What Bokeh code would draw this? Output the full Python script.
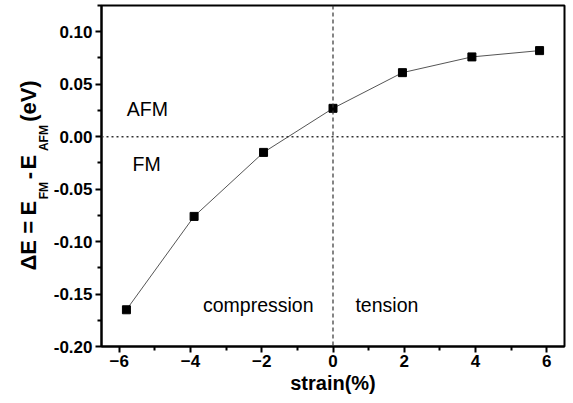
import math
from bokeh.plotting import figure
from bokeh.layouts import row
from bokeh.models import Label, Span, FixedTicker, NumeralTickFormatter, Range1d
from bokeh.embed import file_html
from bokeh.resources import INLINE

# data
strain = [-5.8, -3.9, -1.95, 0.0, 1.95, 3.9, 5.8]
delta_e = [-0.165, -0.076, -0.015, 0.027, 0.061, 0.076, 0.082]
x_major = [-6, -4, -2, 0, 2, 4, 6]
x_minor = [-5, -3, -1, 1, 3, 5]
y_major = [-0.20, -0.15, -0.10, -0.05, 0.0, 0.05, 0.10]
y_minor = [-0.175, -0.125, -0.075, -0.025, 0.025, 0.075, 0.125]

FONT = "Liberation Sans"
LEFT_W = 50

p = figure(width=573 - LEFT_W, height=403, output_backend="svg", toolbar_location=None,
           x_range=Range1d(-6.5, 6.5), y_range=Range1d(-0.2, 0.125),
           min_border_left=101 - LEFT_W, min_border_right=9, min_border_top=5, min_border_bottom=57)
p.xgrid.visible = False
p.ygrid.visible = False
p.outline_line_color = "black"
p.outline_line_width = 2
p.background_fill_color = "white"
p.border_fill_color = "white"

for ax in (p.xaxis[0], p.yaxis[0]):
    ax.axis_line_width = 2
    ax.axis_line_color = "black"
    ax.major_tick_line_width = 2
    ax.minor_tick_line_width = 2
    ax.major_tick_out = 6
    ax.major_tick_in = 0
    ax.minor_tick_out = 4
    ax.minor_tick_in = 0
    ax.major_label_text_font = FONT
    ax.major_label_text_font_style = "bold"
    ax.major_label_text_font_size = "17px"
    ax.major_label_text_color = "black"
    ax.axis_label_text_font = FONT
    ax.axis_label_text_font_style = "bold"
    ax.axis_label_text_font_size = "20px"
    ax.axis_label_text_color = "black"

p.xaxis.ticker = FixedTicker(ticks=x_major, minor_ticks=x_minor)
p.yaxis.ticker = FixedTicker(ticks=y_major, minor_ticks=y_minor)
p.yaxis.formatter = NumeralTickFormatter(format="0.00")
p.xaxis.major_label_standoff = 2
p.xaxis.axis_label = "strain(%)"
p.xaxis.axis_label_standoff = 2
p.yaxis.major_label_standoff = 3

p.add_layout(Span(location=0, dimension="height", line_dash="4 3", line_color="#333333", line_width=1.2))
p.add_layout(Span(location=0, dimension="width", line_dash="2 3", line_color="#333333", line_width=1.5))

p.line(strain, delta_e, line_color="#555555", line_width=1)
p.scatter(strain, delta_e, marker="square", size=8, fill_color="black", line_color="black")

def txt(x, y, t):
    p.add_layout(Label(x=x, y=y, text=t, text_font=FONT, text_font_size="19.5px",
                       text_align="left", text_baseline="alphabetic", text_color="black"))

txt(-5.79, 0.0262, "AFM")
txt(-5.63, -0.0262, "FM")
txt(-3.65, -0.1608, "compression")
txt(0.63, -0.1608, "tension")

# left strip holding the rotated y-axis title with subscripts
lab = figure(width=LEFT_W, height=403, output_backend="svg", toolbar_location=None,
             x_range=Range1d(0, LEFT_W), y_range=p.y_range,
             x_axis_location=None, y_axis_location=None,
             min_border_left=0, min_border_right=0, min_border_top=5, min_border_bottom=57)
lab.outline_line_color = None
lab.xgrid.visible = False
lab.ygrid.visible = False

def ylab(y, t, sub=False):
    lab.add_layout(Label(x=43.5 if sub else 28, y=y,
                         text=t, angle=math.pi / 2, text_font=FONT, text_font_style="bold",
                         text_font_size="12px" if sub else "22px",
                         text_align="center", text_baseline="alphabetic", text_color="black"))

ylab(-0.1131, "\u0394E")
ylab(-0.0864, "=")
ylab(-0.0682, "E")
ylab(-0.0515, "FM", sub=True)
ylab(-0.0372, "-")
ylab(-0.0243, "E")
ylab(-0.0014, "AFM", sub=True)
ylab(0.0339, "(eV)")

layout = row(lab, p, spacing=0)
open("out.html", "w").write(file_html(layout, INLINE))
